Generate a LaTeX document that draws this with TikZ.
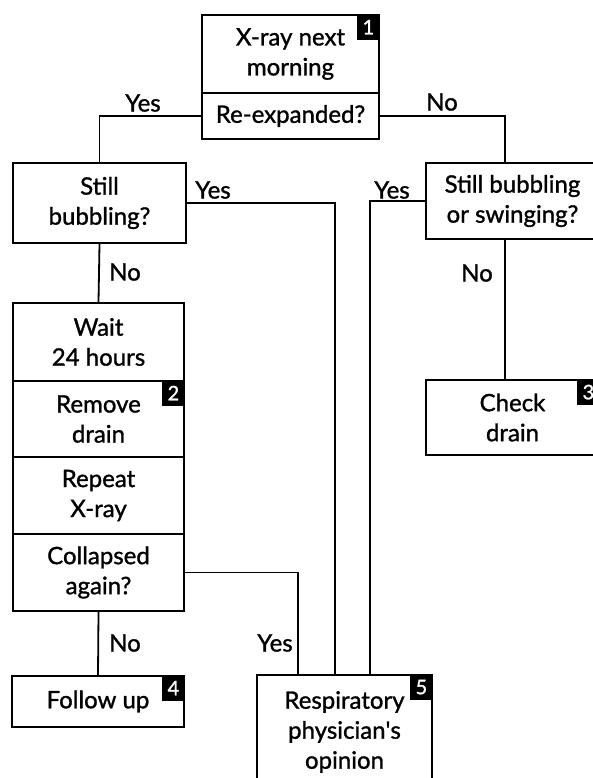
\documentclass[tikz,border=0pt]{standalone}
\usepackage{fontspec}
\setsansfont{Lato}[FakeBold=1.2]
\begin{document}
\begin{tikzpicture}[x=1pt, y=-1pt, font=\sffamily\fontsize{24}{30}\selectfont,
          box/.style={draw, line width=2.2pt, align=center, inner sep=0pt, minimum width=173pt},
          badge/.style={fill=black, text=white, font=\sffamily\fontsize{20}{20}\selectfont,
                        minimum width=23pt, minimum height=26pt, inner sep=0pt, anchor=north east},
          lbl/.style={inner sep=0pt},
          link/.style={line width=1.8pt}]
        \useasboundingbox (0,0) rectangle (593,778);
        \clip (0,0) rectangle (593,778);
        \node[box, minimum width=177pt, minimum height=78pt] (xray) at (290.5,54) {X-ray next\\morning};
        \node[box, minimum width=177pt, minimum height=46pt] (reexp) at (290.5,116) {Re-expanded?};
        \node[box, minimum height=80pt] (still) at (99.5,203) {Still\\bubbling?};
        \node[box, minimum height=76pt] (swing) at (512.5,201) {Still bubbling\\or swinging?};
        \node[box, minimum height=75pt] (check) at (512.5,417.5) {Check\\drain};
        \node[box, minimum width=171pt, minimum height=78pt] (wait) at (98.5,342) {Wait\\24 hours};
        \node[box, minimum width=171pt, minimum height=76pt] (remove) at (98.5,419) {Remove\\drain};
        \node[box, minimum width=171pt, minimum height=77pt] (repeat) at (98.5,495.5) {Repeat\\X-ray};
        \node[box, minimum width=171pt, minimum height=77pt] (collapse) at (98.5,572.5) {Collapsed\\again?};
        \node[box, minimum width=172pt, minimum height=51pt] (follow) at (98,701.5) {Follow up};
        \node[box, minimum width=175pt, minimum height=114pt] (resp) at (344.5,732) {Respiratory\\physician\textquotesingle s\\opinion};
        \node[badge] (n1) at (xray.north east) {1};
        \node[badge] (n2) at (remove.north east) {2};
        \node[badge] (n3) at (check.north east) {3};
        \node[badge] (n4) at (follow.north east) {4};
        \node[badge] (n5) at (resp.north east) {5};
        \draw[link] (reexp.west) -| (still.north);
        \draw[link] (reexp.east) -| ([xshift=80pt]swing.north west);
        \draw[link] (still.east) -| ([xshift=79pt]resp.north west);
        \draw[link] (swing.west) -| ([xshift=114pt]resp.north west);
        \draw[link] (still.south) -- (wait.north);
        \draw[link] ([xshift=80pt]swing.south west) -- ([xshift=80pt]check.north west);
        \draw[link] (collapse.east) -| ([xshift=42pt]resp.north west);
        \draw[link] (collapse.south) -- (follow.north);
        \node[lbl] (y1) at (143,103) {Yes};
        \node[lbl] (m1) at (442,102) {No};
        \node[lbl] (y2) at (213,190) {Yes};
        \node[lbl] (m2) at (125,272) {No};
        \node[lbl] (y3) at (392,190) {Yes};
        \node[lbl] (m3) at (477,273) {No};
        \node[lbl] (m4) at (125,643) {No};
        \node[lbl] (y4) at (275,643) {Yes};
      \end{tikzpicture}
\end{document}
